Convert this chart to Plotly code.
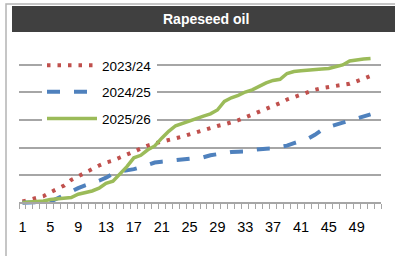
import plotly.graph_objects as go

weeks = list(range(1, 52))
s2023 = [0.05, 0.12, 0.18, 0.24, 0.38, 0.51, 0.63, 0.83, 0.97, 1.10,
         1.23, 1.35, 1.46, 1.53, 1.64, 1.75, 1.86, 1.97, 2.07, 2.15,
         2.21, 2.26, 2.33, 2.40, 2.48, 2.56, 2.64, 2.72, 2.78, 2.84,
         2.91, 2.99, 3.09, 3.19, 3.29, 3.38, 3.48, 3.61, 3.74, 3.83,
         3.91, 3.99, 4.09, 4.15, 4.20, 4.23, 4.27, 4.31, 4.39, 4.49, 4.59]
s2024 = [0.00, 0.00, 0.02, 0.03, 0.04, 0.17, 0.30, 0.43, 0.53, 0.63,
         0.71, 0.80, 0.91, 1.05, 1.13, 1.17, 1.22, 1.29, 1.38, 1.46,
         1.49, 1.52, 1.54, 1.56, 1.58, 1.61, 1.65, 1.72, 1.77, 1.81,
         1.84, 1.85, 1.86, 1.91, 1.95, 1.96, 1.97, 2.02, 2.07, 2.16,
         2.25, 2.32, 2.46, 2.64, 2.75, 2.81, 2.90, 2.97, 3.04, 3.13, 3.20]
s2025 = [0.01, 0.03, 0.04, 0.07, 0.12, 0.14, 0.17, 0.19, 0.31, 0.37,
         0.43, 0.53, 0.71, 0.78, 1.05, 1.31, 1.63, 1.72, 1.92, 2.06,
         2.34, 2.59, 2.79, 2.88, 2.99, 3.08, 3.14, 3.22, 3.36, 3.67,
         3.80, 3.89, 4.01, 4.09, 4.23, 4.34, 4.43, 4.47, 4.68, 4.75,
         4.78, 4.81, 4.83, 4.84, 4.86, 4.91, 4.99, 5.13, 5.18, 5.20, 5.22]
tick_labels = list(range(1, 53, 4))
series_names = ["2023/24", "2024/25", "2025/26"]
title_text = "Rapeseed oil"

FONT = "Liberation Sans"
fig = go.Figure()
fig.add_trace(go.Scatter(x=weeks, y=s2023, mode="lines", name=series_names[0],
                         legendgroup="a",
                         line=dict(color="#C0504D", width=4, dash="3.5px,7px")))
fig.add_trace(go.Scatter(x=weeks, y=s2024, mode="lines", name=series_names[1],
                         legendgroup="b",
                         line=dict(color="#4F81BD", width=4, dash="13px,14px")))
fig.add_trace(go.Scatter(x=weeks, y=s2025, mode="lines", name=series_names[2],
                         legendgroup="c",
                         line=dict(color="#9BBB59", width=3.5)))

ml, mr, mt, mb = 19, 14, 37, 49
W, H = 395, 256
pw, ph = W - ml - mr, H - mt - mb
ymin, ymax = -0.15, 6.0

def px_x(p):
    return (p - ml) / pw

def px_y(p):
    return (H - mb - p) / ph

fig.update_layout(
    width=W, height=H,
    margin=dict(l=ml, r=mr, t=mt, b=mb, pad=0),
    paper_bgcolor="white", plot_bgcolor="white",
    font=dict(family=FONT, color="black"),
    showlegend=True,
    legend=dict(x=px_x(42), y=px_y(50), xanchor="left", yanchor="top",
                bgcolor="white", font=dict(size=13.5, family=FONT),
                tracegroupgap=6, traceorder="grouped", itemwidth=50),
    xaxis=dict(range=[0.5, 52.5], showgrid=False, zeroline=False,
               anchor="free", position=(0 - ymin) / (ymax - ymin),
               showline=True, linecolor="#a6a6a6", linewidth=1.5,
               tickmode="array", tickvals=tick_labels,
               ticktext=[str(t) for t in tick_labels],
               ticks="", tickfont=dict(size=14.5, family=FONT),
               ticklabelstandoff=11,
               minor=dict(tickmode="array",
                          tickvals=[i + 0.5 for i in range(0, 53)],
                          ticks="outside", ticklen=5, tickcolor="#a6a6a6",
                          tickwidth=1, showgrid=False)),
    yaxis=dict(range=[ymin, ymax], tickvals=[1, 2, 3, 4, 5, 6],
               showticklabels=False, showgrid=True, gridcolor="#a6a6a6",
               gridwidth=1.5, zeroline=False, showline=False, ticks=""),
    shapes=[
        dict(type="rect", xref="paper", yref="paper",
             x0=px_x(6), x1=px_x(430), y0=px_y(4), y1=px_y(300),
             line=dict(color="#b4b4b4", width=1.5), fillcolor="rgba(0,0,0,0)",
             layer="below"),
        dict(type="rect", xref="paper", yref="paper",
             x0=px_x(12), x1=px_x(400), y0=px_y(32), y1=px_y(6),
             line=dict(width=0), fillcolor="#404040", layer="below"),
    ],
    annotations=[
        dict(text="<b>" + title_text + "</b>", xref="paper", yref="paper",
             x=px_x(206), y=px_y(19.5), xanchor="center", yanchor="middle",
             showarrow=False, font=dict(size=14, color="white", family=FONT)),
    ],
)

fig.write_html("out.html",
               config={"displayModeBar": False},
               post_script="document.body.style.margin='0';"
                           "document.body.style.overflow='hidden';")
